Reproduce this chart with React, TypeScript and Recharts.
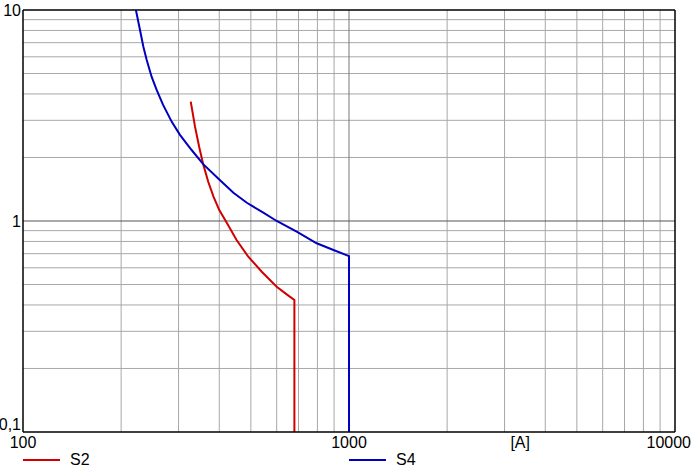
import { LineChart, Line, XAxis, YAxis, ReferenceLine } from "recharts";

// tripping curves, current [A] vs time
const s2Current = [327, 337, 347, 357, 370, 384, 400, 420, 452, 491, 540, 600, 644, 680, 680];
const s2Time = [3.68, 2.8, 2.25, 1.86, 1.535, 1.304, 1.127, 0.992, 0.813, 0.677, 0.575, 0.488, 0.449, 0.422, 0.1];

const s4Current = [222, 228.5, 234, 239.6, 248, 257, 269, 286, 303, 329, 357, 397, 442, 486, 546, 600, 691, 796, 896, 1000, 1000];
const s4Time = [10, 8.04, 6.7, 5.79, 4.83, 4.18, 3.55, 2.95, 2.56, 2.17, 1.86, 1.59, 1.36, 1.22, 1.095, 1.0, 0.89, 0.784, 0.729, 0.682, 0.1];

const seriesNames = ["S2", "S4"];
const seriesColors = ["#d00000", "#0000c0"];

const xTicks = [100, 1000, 3350, 10000];
const xTickLabels = ["100", "1000", "[A]", "10000"];
const yTicks = [0.1, 1, 10];
const yTickLabels = ["0,1", "1", "10"];

const xGrid = [200, 300, 400, 500, 600, 700, 800, 900, 2000, 3000, 4000, 5000, 6000, 7000, 8000, 9000];
const yGrid = [0.2, 0.3, 0.4, 0.5, 0.6, 0.7, 0.8, 0.9, 2, 3, 4, 5, 6, 7, 8, 9];

const s2Data = s2Current.map((x, i) => ({ x, t: s2Time[i] }));
const s4Data = s4Current.map((x, i) => ({ x, t: s4Time[i] }));

const font = "'Liberation Sans', Arial, sans-serif";

function XTick(props: any) {
  const { x, y, index } = props;
  const label = xTickLabels[index];
  const last = index === xTicks.length - 1;
  return (
    <text
      x={last ? x + 16 : x}
      y={y + 16}
      textAnchor={last ? "end" : "middle"}
      fontSize={16}
      fontFamily={font}
      fill="#000"
    >
      {label}
    </text>
  );
}

function YTick(props: any) {
  const { x, y, index } = props;
  const shift = index === 0 ? -8 : 0;
  return (
    <text x={x - 2} y={y + 6 + shift} textAnchor="end" fontSize={16} fontFamily={font} fill="#000">
      {yTickLabels[index]}
    </text>
  );
}

export default function App() {
  return (
    <div style={{ position: "absolute", left: 0, top: 0, width: 694, height: 469, background: "#fff" }}>
      <LineChart width={694} height={469} margin={{ top: 10, right: 19, left: 0, bottom: 0 }}>
        <XAxis
          dataKey="x"
          type="number"
          scale="log"
          domain={[100, 10000]}
          allowDataOverflow
          ticks={xTicks}
          interval={0}
          height={37}
          tickSize={0}
          tickMargin={0}
          tick={<XTick />}
          axisLine={{ stroke: "#000", strokeWidth: 1.5 }}
        />
        <YAxis
          dataKey="t"
          type="number"
          scale="log"
          domain={[0.1, 10]}
          allowDataOverflow
          ticks={yTicks}
          interval={0}
          width={23}
          tickSize={0}
          tickMargin={0}
          tick={<YTick />}
          axisLine={{ stroke: "#000", strokeWidth: 1.5 }}
        />
        {xGrid.map((v) => (
          <ReferenceLine key={"gx" + v} x={v} stroke="#a8a8a8" strokeWidth={1} />
        ))}
        {yGrid.map((v) => (
          <ReferenceLine key={"gy" + v} y={v} stroke="#a8a8a8" strokeWidth={1} />
        ))}
        <ReferenceLine x={1000} stroke="#777" strokeWidth={1} />
        <ReferenceLine y={1} stroke="#555" strokeWidth={1} />
        <ReferenceLine y={10} stroke="#000" strokeWidth={1.5} />
        <ReferenceLine x={10000} stroke="#000" strokeWidth={1.5} />
        <Line
          data={s2Data}
          dataKey="t"
          name={seriesNames[0]}
          stroke={seriesColors[0]}
          strokeWidth={2}
          dot={false}
          type="linear"
          isAnimationActive={false}
        />
        <Line
          data={s4Data}
          dataKey="t"
          name={seriesNames[1]}
          stroke={seriesColors[1]}
          strokeWidth={2}
          dot={false}
          type="linear"
          isAnimationActive={false}
        />
      </LineChart>
      {seriesNames.map((name, i) => (
        <div
          key={name}
          style={{
            position: "absolute",
            left: i === 0 ? 23 : 349,
            top: 451,
            display: "flex",
            alignItems: "center",
            fontFamily: font,
            fontSize: 16,
            lineHeight: "18px",
          }}
        >
          <span style={{ display: "inline-block", width: 37, height: 2, background: seriesColors[i], marginRight: 10 }} />
          <span>{name}</span>
        </div>
      ))}
    </div>
  );
}
